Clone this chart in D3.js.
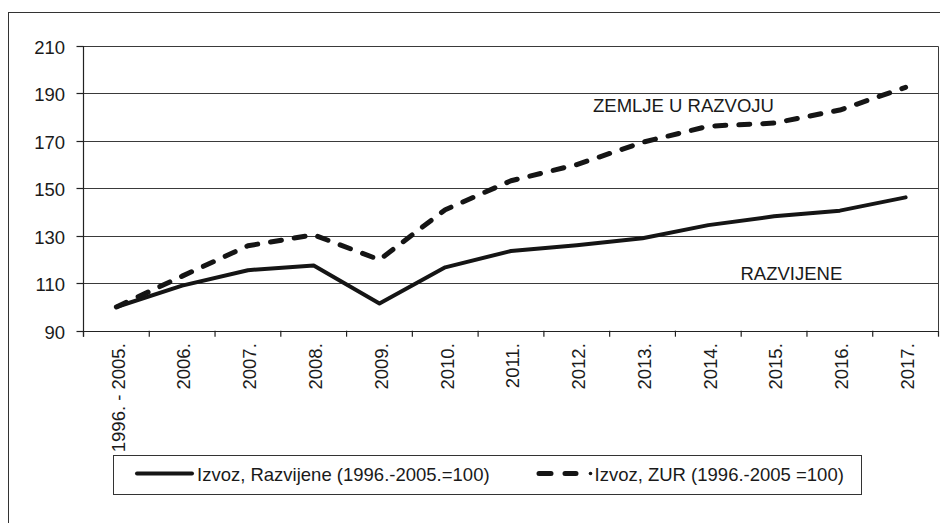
<!DOCTYPE html>
<html>
<head>
<meta charset="utf-8">
<script src="https://cdn.jsdelivr.net/npm/d3@7"></script>
<style>
  html, body { margin: 0; padding: 0; background: #fff; }
  svg { display: block; }
  text { font-family: "Liberation Sans", Arial, sans-serif; fill: #1a1a1a; }
</style>
</head>
<body>
<svg id="chart" width="940" height="523"></svg>
<script>
// ---- data ----
const categories = ["1996. - 2005.", "2006.", "2007.", "2008.", "2009.", "2010.", "2011.", "2012.", "2013.", "2014.", "2015.", "2016.", "2017."];
const razvijene = [100, 109, 115.5, 117.5, 101.5, 116.7, 123.6, 126, 129, 134.5, 138.2, 140.6, 146.2];
const zur = [100, 113, 125.8, 130.4, 119.9, 141, 153.2, 160, 169.4, 176.2, 177.5, 183, 192.6];
const yTicks = [90, 110, 130, 150, 170, 190, 210];
const seriesNames = ["Izvoz, Razvijene (1996.-2005.=100)", "Izvoz, ZUR (1996.-2005 =100)"];
const annotations = ["ZEMLJE U RAZVOJU", "RAZVIJENE"];

// ---- layout ----
const svg = d3.select("#chart");
const plot = { left: 83.5, right: 938.5, top: 46, bottom: 330.7 };
const fontSize = 18.5;

const x = d3.scaleBand().domain(categories).range([plot.left, plot.right]).paddingInner(0).paddingOuter(0);
const y = d3.scaleLinear().domain([90, 210]).range([plot.bottom, plot.top]);
const cx = d => x(d) + x.bandwidth() / 2;

// outer frame
svg.append("rect")
  .attr("x", 8.5).attr("y", 12.5).attr("width", 1000).attr("height", 600)
  .attr("fill", "none").attr("stroke", "#333").attr("stroke-width", 1);

// gridlines
svg.append("g").selectAll("line").data(yTicks.filter(t => t > 90)).join("line")
  .attr("x1", plot.left).attr("x2", plot.right)
  .attr("y1", d => Math.round(y(d)) + 0.5).attr("y2", d => Math.round(y(d)) + 0.5)
  .attr("stroke", "#3a3a3a").attr("stroke-width", 1);

// plot right border
svg.append("line")
  .attr("x1", plot.right).attr("x2", plot.right)
  .attr("y1", Math.round(y(210)) + 0.5).attr("y2", plot.bottom)
  .attr("stroke", "#3a3a3a").attr("stroke-width", 1);

// y axis
const yAxis = svg.append("g");
yAxis.append("line")
  .attr("x1", plot.left).attr("x2", plot.left)
  .attr("y1", y(210)).attr("y2", plot.bottom + 6)
  .attr("stroke", "#222").attr("stroke-width", 1.2);
yAxis.selectAll("line.tick").data(yTicks).join("line").attr("class", "tick")
  .attr("x1", plot.left - 7).attr("x2", plot.left)
  .attr("y1", d => Math.round(y(d)) + 0.5).attr("y2", d => Math.round(y(d)) + 0.5)
  .attr("stroke", "#222").attr("stroke-width", 1.2);
yAxis.selectAll("text").data(yTicks).join("text")
  .attr("x", 65).attr("y", d => y(d) + 1.5)
  .attr("dy", "0.35em").attr("text-anchor", "end")
  .attr("font-size", fontSize)
  .text(d => d);

// x axis
const xAxis = svg.append("g");
xAxis.append("line")
  .attr("x1", plot.left).attr("x2", plot.right)
  .attr("y1", Math.round(plot.bottom) + 0.5).attr("y2", Math.round(plot.bottom) + 0.5)
  .attr("stroke", "#222").attr("stroke-width", 1.2);
const boundaries = categories.map(c => x(c)).concat([plot.right]);
xAxis.selectAll("line.tick").data(boundaries).join("line").attr("class", "tick")
  .attr("x1", d => d).attr("x2", d => d)
  .attr("y1", plot.bottom).attr("y2", plot.bottom + 6)
  .attr("stroke", "#222").attr("stroke-width", 1.2);
xAxis.selectAll("text").data(categories).join("text")
  .attr("transform", d => `translate(${cx(d)},${plot.bottom + 12.5}) rotate(-90)`)
  .attr("dy", "0.45em").attr("text-anchor", "end")
  .attr("font-size", fontSize)
  .text(d => d);

// lines
const line = d3.line().x((d, i) => cx(categories[i])).y(d => y(d));
svg.append("path").datum(razvijene)
  .attr("d", line).attr("fill", "none")
  .attr("stroke", "#151515").attr("stroke-width", 4)
  .attr("stroke-linejoin", "round").attr("stroke-linecap", "round");
svg.append("path").datum(zur)
  .attr("d", line).attr("fill", "none")
  .attr("stroke", "#151515").attr("stroke-width", 5)
  .attr("stroke-dasharray", "11,13")
  .attr("stroke-linejoin", "round").attr("stroke-linecap", "round");

// annotations
svg.append("text").attr("x", 593).attr("y", 111.5).attr("font-size", fontSize).text(annotations[0]);
svg.append("text").attr("x", 740.5).attr("y", 280).attr("font-size", fontSize).text(annotations[1]);

// legend
const lg = svg.append("g");
lg.append("rect")
  .attr("x", 113.5).attr("y", 455.5).attr("width", 748).attr("height", 39)
  .attr("fill", "#fff").attr("stroke", "#333").attr("stroke-width", 1);
lg.append("line")
  .attr("x1", 137).attr("x2", 192).attr("y1", 473.5).attr("y2", 473.5)
  .attr("stroke", "#151515").attr("stroke-width", 4).attr("stroke-linecap", "round");
lg.append("text").attr("x", 197).attr("y", 481).attr("font-size", fontSize).text(seriesNames[0]);
lg.append("line")
  .attr("x1", 539).attr("x2", 576).attr("y1", 473.5).attr("y2", 473.5)
  .attr("stroke", "#151515").attr("stroke-width", 5)
  .attr("stroke-dasharray", "12,14").attr("stroke-linecap", "round");
lg.append("circle").attr("cx", 590.5).attr("cy", 473.5).attr("r", 1.8).attr("fill", "#151515");
lg.append("text").attr("x", 594.5).attr("y", 481).attr("font-size", fontSize).text(seriesNames[1]);
</script>
</body>
</html>
